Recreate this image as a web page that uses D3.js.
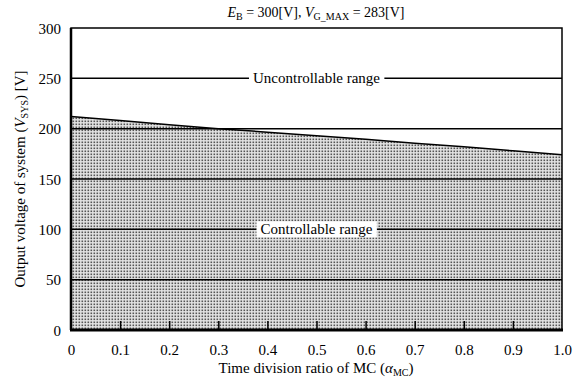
<!DOCTYPE html>
<meta charset="utf-8">
<head>
<style>
 body { margin: 0; background: #fff; }
 text { font-family: "Liberation Serif", serif; fill: #000; }
 .grid line { stroke: #000; stroke-width: 1.5px; }
</style>
</head>
<body>
<svg width="581" height="383"></svg>
<script src="https://d3js.org/d3.v7.min.js"></script>
<script>
  // boundary of the controllable region
  var alpha = [0, 0.1, 0.2, 0.3, 0.4, 0.5, 0.6, 0.7, 0.8, 0.9, 1.0];
  var vsys  = [212, 208, 204, 200, 196.5, 193, 189.5, 185.5, 182, 178, 174];
  var xTicks = [0, 0.1, 0.2, 0.3, 0.4, 0.5, 0.6, 0.7, 0.8, 0.9, 1.0];
  var yTicks = [0, 50, 100, 150, 200, 250, 300];
  var gridLevels = [50, 100, 150, 200, 250];

  var serif = 'Liberation Serif';
  var svg = d3.select('svg');
  var margin = { top: 28, left: 71, bottom: 53, right: 19 };
  var width = +svg.attr('width'), height = +svg.attr('height');
  var x = d3.scaleLinear().domain([0, 1]).range([margin.left, width - margin.right]);
  var y = d3.scaleLinear().domain([0, 300]).range([height - margin.bottom, margin.top]);

  // dotted fill
  var defs = svg.append('defs');
  var pat = defs.append('pattern').attr('id', 'dots')
      .attr('patternUnits', 'userSpaceOnUse').attr('width', 3).attr('height', 3);
  pat.append('rect').attr('width', 3).attr('height', 3).attr('fill', '#e4e4e4');
  pat.append('rect').attr('x', 0.5).attr('y', 0.5).attr('width', 1.6).attr('height', 1.6).attr('fill', '#555');

  var pts = alpha.map(function(a, i) { return [a, vsys[i]]; });
  svg.append('path').datum(pts)
    .attr('fill', 'url(#dots)')
    .attr('d', d3.area().x(function(d) { return x(d[0]); }).y0(y(0)).y1(function(d) { return y(d[1]); }));

  // horizontal grid
  svg.append('g').attr('class', 'grid').selectAll('line').data(gridLevels).enter()
    .append('line')
      .attr('x1', x(0)).attr('x2', x(1))
      .attr('y1', function(d) { return y(d); }).attr('y2', function(d) { return y(d); });

  // boundary line
  svg.append('path').datum(pts)
    .attr('fill', 'none').attr('stroke', '#000').attr('stroke-width', 1.5)
    .attr('d', d3.line().x(function(d) { return x(d[0]); }).y(function(d) { return y(d[1]); }));

  // frame
  svg.append('rect').attr('x', x(0)).attr('y', y(300))
    .attr('width', x(1) - x(0)).attr('height', y(0) - y(300))
    .attr('fill', 'none').attr('stroke', '#000').attr('stroke-width', 1.5);
  svg.append('line').attr('x1', x(0)).attr('x2', x(0)).attr('y1', y(300)).attr('y2', y(0))
    .attr('stroke', '#000').attr('stroke-width', 2.5);
  svg.append('line').attr('x1', x(0) - 1).attr('x2', x(1) + 1).attr('y1', y(0)).attr('y2', y(0))
    .attr('stroke', '#000').attr('stroke-width', 3);

  // axes
  var xAxis = d3.axisBottom(x).tickValues(xTicks).tickSize(0)
    .tickFormat(function(d) { return d === 0 ? '0' : d3.format('.1f')(d); });
  var gx = svg.append('g').attr('transform', 'translate(0,' + y(0) + ')').call(xAxis)
    .attr('font-family', serif).attr('font-size', 15);
  gx.select('.domain').remove();
  gx.selectAll('text').attr('dy', null).attr('y', 25);
  gx.selectAll('.tick').filter(function(d) { return d > 0 && d < 1; })
    .append('line').attr('y1', 0).attr('y2', -9).attr('stroke', '#000').attr('stroke-width', 1.5);

  var yAxis = d3.axisLeft(y).tickValues(yTicks).tickSize(0);
  var gy = svg.append('g').attr('transform', 'translate(' + x(0) + ',0)').call(yAxis)
    .attr('font-family', serif).attr('font-size', 15);
  gy.select('.domain').remove();
  gy.selectAll('text').attr('dy', null).attr('x', -10).attr('y', 5);

  // region labels
  function boxLabel(text, xv, yv) {
    var t = svg.append('text').attr('x', x(xv)).attr('y', y(yv) + 5)
      .attr('text-anchor', 'middle').attr('font-family', serif).attr('font-size', 15).text(text);
    var bb = t.node().getBBox();
    svg.insert('rect', function() { return t.node(); })
      .attr('x', bb.x - 4).attr('y', bb.y).attr('width', bb.width + 8).attr('height', bb.height)
      .attr('fill', '#fff');
  }
  boxLabel('Uncontrollable range', 0.5, 250);
  boxLabel('Controllable range', 0.5, 100);

  // titles
  var title = svg.append('text').attr('x', 316).attr('y', 17).attr('text-anchor', 'middle')
    .attr('font-family', serif).attr('font-size', 14);
  title.append('tspan').style('font-style', 'italic').text('E');
  title.append('tspan').attr('dy', 3).attr('font-size', 10).text('B');
  title.append('tspan').attr('dy', -3).text(' = 300[V], ');
  title.append('tspan').style('font-style', 'italic').text('V');
  title.append('tspan').attr('dy', 3).attr('font-size', 10).text('G_MAX');
  title.append('tspan').attr('dy', -3).text(' = 283[V]');

  var xt = svg.append('text').attr('x', 316).attr('y', 373).attr('text-anchor', 'middle')
    .attr('font-family', serif).attr('font-size', 15);
  xt.append('tspan').text('Time division ratio of MC (');
  xt.append('tspan').style('font-style', 'italic').text('α');
  xt.append('tspan').attr('dy', 3).attr('font-size', 10).text('MC');
  xt.append('tspan').attr('dy', -3).text(')');

  var yt = svg.append('text').attr('transform', 'translate(25,' + y(150) + ') rotate(-90)')
    .attr('text-anchor', 'middle').attr('font-family', serif).attr('font-size', 15);
  yt.append('tspan').text('Output voltage of system (');
  yt.append('tspan').style('font-style', 'italic').text('V');
  yt.append('tspan').attr('dy', 3).attr('font-size', 10).text('SYS');
  yt.append('tspan').attr('dy', -3).text(') [V]');
</script>
</body>
</html>
